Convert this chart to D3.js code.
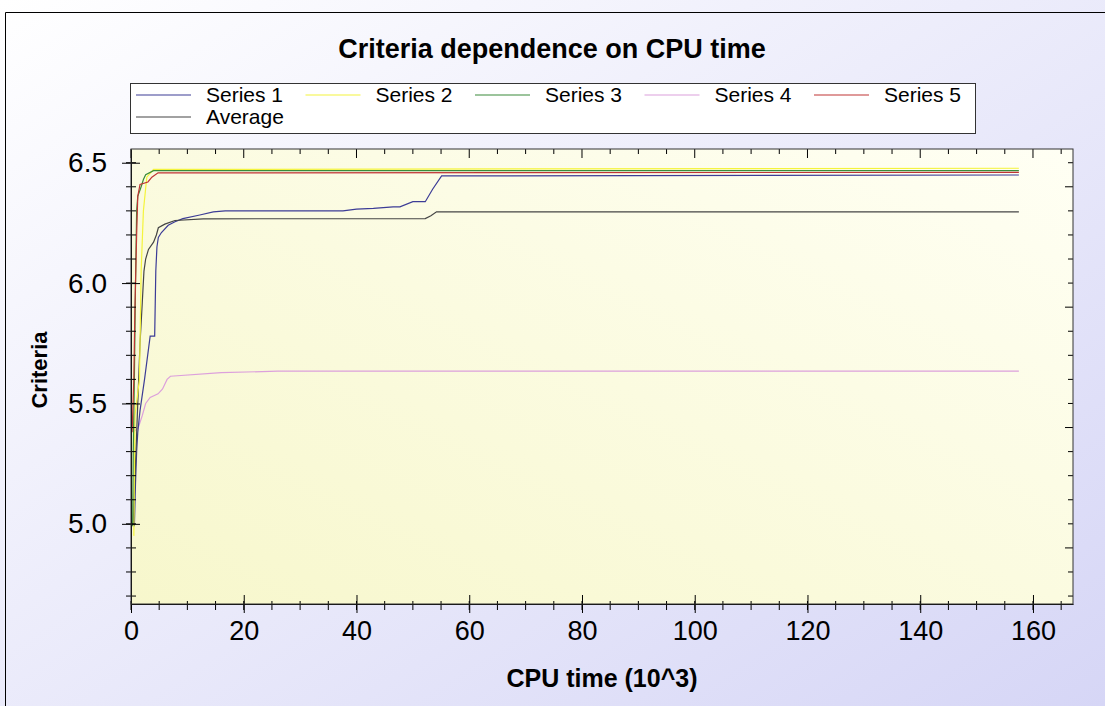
<!DOCTYPE html>
<html>
<head>
<meta charset="utf-8">
<script src="https://cdn.jsdelivr.net/npm/d3@7"></script>
<style>
    body { margin: 0; background: #fff; }
    svg { display: block; font-family: "Liberation Sans", Arial, sans-serif; }
</style>
</head>
<body>
<svg width="1105" height="706"></svg>
<script>
// data: [cpu time (10^3), criteria]
const series1 = [[0.6, 4.99], [0.8, 5.17], [1.0, 5.30], [1.2, 5.38], [1.6, 5.47], [2.4, 5.60], [3.4, 5.78],
    [4.2, 5.78], [4.4, 6.05], [4.6, 6.15], [4.85, 6.19], [5.4, 6.21], [6.6, 6.24], [7.8, 6.255], [9.2, 6.268],
    [12.2, 6.283], [14.6, 6.296], [16.7, 6.30], [37.6, 6.30], [40, 6.307], [43, 6.31], [46.5, 6.317],
    [47.7, 6.317], [50, 6.338], [52.2, 6.338], [53.5, 6.39], [55.1, 6.445], [157.5, 6.449]];
const series2 = [[0.5, 4.95], [0.7, 5.45], [1.5, 5.60], [1.8, 6.05], [2.2, 6.30], [2.8, 6.44], [4.0, 6.472], [157.5, 6.477]];
const series3 = [[0.3, 4.99], [0.4, 5.30], [0.6, 5.60], [0.8, 6.00], [1.0, 6.30], [1.2, 6.36], [1.8, 6.40],
    [2.2, 6.43], [2.6, 6.45], [4.0, 6.467], [157.5, 6.467]];
const series4 = [[0.4, 5.38], [1.3, 5.40], [2.0, 5.45], [2.6, 5.50], [3.4, 5.525], [4.8, 5.54], [5.6, 5.56],
    [6.4, 5.60], [7.0, 5.613], [16, 5.628], [26, 5.634], [157.5, 5.634]];
const series5 = [[0.2, 5.38], [0.5, 5.60], [0.7, 5.90], [1.0, 6.20], [1.2, 6.36], [1.6, 6.41], [3.0, 6.42],
    [3.7, 6.44], [4.8, 6.458], [157.5, 6.46]];
const average = [[0.4, 5.00], [0.8, 5.25], [1.2, 5.50], [1.6, 5.75], [2.0, 5.92], [2.3, 6.05], [2.6, 6.10],
    [3.1, 6.14], [4.0, 6.17], [4.5, 6.20], [4.85, 6.23], [6.0, 6.245], [7.8, 6.26], [12.8, 6.267],
    [52.2, 6.268], [53.2, 6.28], [54.2, 6.296], [157.5, 6.296]];

const seriesNames = ["Series 1", "Series 2", "Series 3", "Series 4", "Series 5", "Average"];
const seriesData = [series1, series2, series3, series4, series5, average];
const seriesColors = ["#3c3c96", "#f4f43c", "#3a8a3a", "#dca0dc", "#c03434", "#454545"];

const xTicks = [0, 20, 40, 60, 80, 100, 120, 140, 160];
const yTicks = [5.0, 5.5, 6.0, 6.5];
const xDomain = [0, 167.1];
const yDomain = [4.667, 6.557];

const plot = {left: 131, right: 1073, top: 149, bottom: 604};

let svg = d3.select("svg");
let defs = svg.append("defs");

let bgGrad = defs.append("linearGradient").attr("id", "bgGrad")
    .attr("x1", "0").attr("y1", "0").attr("x2", "1").attr("y2", "1");
bgGrad.append("stop").attr("offset", "0%").attr("stop-color", "#ffffff");
bgGrad.append("stop").attr("offset", "100%").attr("stop-color", "#d6d6f6");

let plotGrad = defs.append("linearGradient").attr("id", "plotGrad")
    .attr("x1", "1").attr("y1", "0").attr("x2", "0").attr("y2", "1");
plotGrad.append("stop").attr("offset", "0%").attr("stop-color", "#fffff4");
plotGrad.append("stop").attr("offset", "100%").attr("stop-color", "#f7f7cc");

// outer background and frame
svg.append("rect").attr("width", 1105).attr("height", 706).attr("fill", "url(#bgGrad)");
svg.append("path").attr("d", "M5.5,706V12.5H1105").attr("fill", "none").attr("stroke", "#000");

let x = d3.scaleLinear().domain(xDomain).range([plot.left, plot.right]);
let y = d3.scaleLinear().domain(yDomain).range([plot.bottom, plot.top]);

svg.append("rect")
    .attr("x", plot.left).attr("y", plot.top)
    .attr("width", plot.right - plot.left).attr("height", plot.bottom - plot.top)
    .attr("fill", "url(#plotGrad)");

// title
svg.append("text")
    .attr("x", 552).attr("y", 58)
    .attr("text-anchor", "middle")
    .attr("font-size", 27).attr("font-weight", "bold")
    .text("Criteria dependence on CPU time");

// legend
let legend = svg.append("g");
legend.append("rect")
    .attr("x", 130.5).attr("y", 83.5).attr("width", 845).attr("height", 50)
    .attr("fill", "#fff").attr("stroke", "#333");
seriesNames.forEach((name, i) => {
    let lx = 136 + (i % 5) * 169.5;
    let ly = 95 + Math.floor(i / 5) * 22;
    legend.append("line")
        .attr("x1", lx).attr("x2", lx + 55).attr("y1", ly).attr("y2", ly)
        .attr("stroke", seriesColors[i]).attr("stroke-width", 1.2);
    legend.append("text")
        .attr("x", lx + 70).attr("y", ly + 7)
        .attr("font-size", 21)
        .text(name);
});

// series lines
let line = d3.line().x(d => x(d[0])).y(d => y(d[1]));
let lines = svg.append("g").attr("fill", "none");
[3, 0, 5, 1, 2, 4].forEach(i => {
    lines.append("path")
        .datum(seriesData[i])
        .attr("d", line)
        .attr("stroke", seriesColors[i])
        .attr("stroke-width", 1.2);
});

// axes with ticks on all four sides
let xMinor = d3.range(0, 167, 5);
let yMinor = d3.range(4.7, 6.56, 0.1);

let bottomAxis = svg.append("g").attr("transform", "translate(0," + plot.bottom + ")")
    .call(d3.axisBottom(x).tickValues(xTicks).tickFormat(d3.format("d")).tickSizeOuter(0));
bottomAxis.selectAll(".tick line").attr("y1", -9).attr("y2", 9);
bottomAxis.selectAll(".tick text").attr("y", 17).attr("font-size", 27).attr("fill", "#000");
bottomAxis.selectAll(".minor").data(xMinor).enter().append("line")
    .attr("class", "minor")
    .attr("x1", d => x(d)).attr("x2", d => x(d)).attr("y1", -3).attr("y2", 6)
    .attr("stroke", "#000");

let leftAxis = svg.append("g").attr("transform", "translate(" + plot.left + ",0)")
    .call(d3.axisLeft(y).tickValues(yTicks).tickFormat(d3.format(".1f")).tickSizeOuter(0));
leftAxis.selectAll(".tick line").attr("x1", -9).attr("x2", 9);
leftAxis.selectAll(".tick text").attr("x", -24).attr("font-size", 28).attr("fill", "#000");
leftAxis.selectAll(".minor").data(yMinor).enter().append("line")
    .attr("class", "minor")
    .attr("x1", -5).attr("x2", 5).attr("y1", d => y(d)).attr("y2", d => y(d))
    .attr("stroke", "#000");

let topAxis = svg.append("g");
topAxis.selectAll("line").data(xMinor).enter().append("line")
    .attr("x1", d => x(d)).attr("x2", d => x(d))
    .attr("y1", plot.top).attr("y2", d => plot.top + (d % 20 === 0 ? 9 : 5))
    .attr("stroke", "#000");

let rightAxis = svg.append("g");
rightAxis.selectAll("line").data(yMinor).enter().append("line")
    .attr("x1", plot.right).attr("x2", (d, i) => plot.right - ((i + 3) % 5 === 0 ? 8 : 5))
    .attr("y1", d => y(d)).attr("y2", d => y(d))
    .attr("stroke", "#000");

svg.append("rect")
    .attr("x", plot.left).attr("y", plot.top)
    .attr("width", plot.right - plot.left).attr("height", plot.bottom - plot.top)
    .attr("fill", "none").attr("stroke", "#333");

// axis titles
svg.append("text")
    .attr("x", 602).attr("y", 687)
    .attr("text-anchor", "middle")
    .attr("font-size", 25).attr("font-weight", "bold")
    .text("CPU time (10^3)");
svg.append("text")
    .attr("transform", "translate(47,370) rotate(-90)")
    .attr("text-anchor", "middle")
    .attr("font-size", 22).attr("font-weight", "bold")
    .text("Criteria");
</script>
</body>
</html>
